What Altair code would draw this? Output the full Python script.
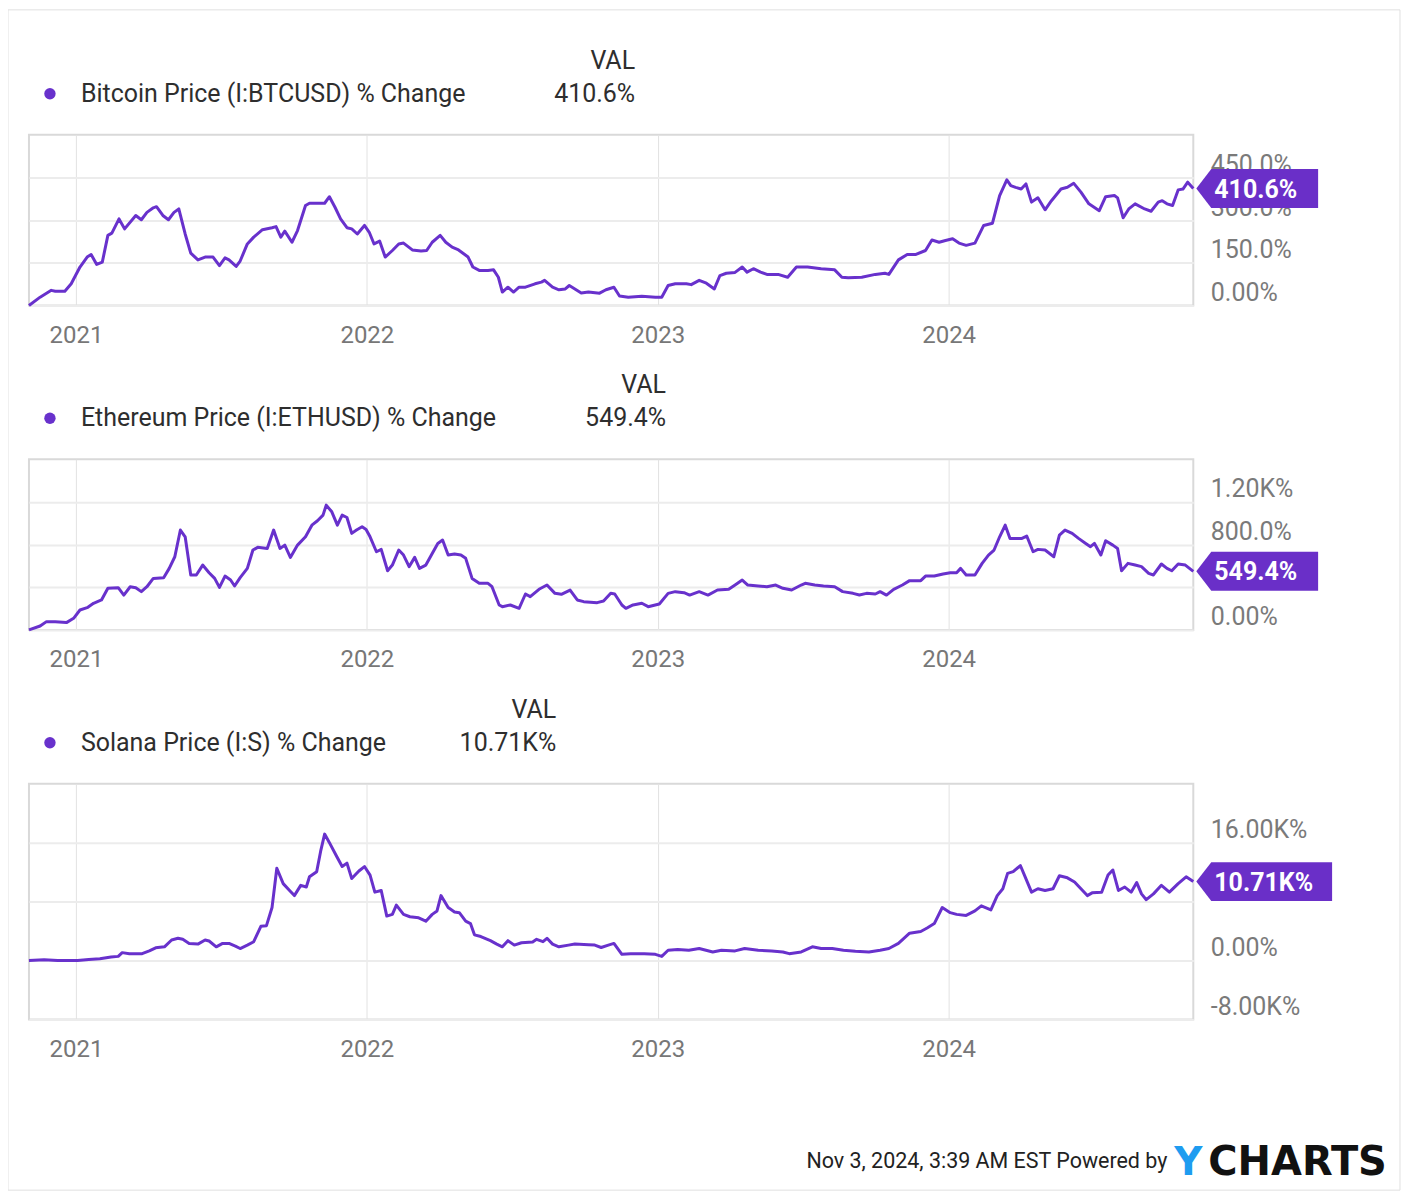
import altair as alt
import pandas as pd

START = "2020-11-03"
END = "2024-11-03"

# days since START, % change values
btc_days = [0, 14, 28, 33, 45, 53, 64, 73, 78, 85, 92, 99, 104, 113, 120, 134, 141, 148, 156, 160,
            168, 175, 182, 188, 196, 203, 212, 221, 231, 239, 246, 251, 260, 265, 274, 282, 293, 305, 310, 316,
            321, 330, 337, 347, 352, 363, 371, 377, 384, 391, 399, 405, 412, 421, 427, 433, 440, 447, 456, 464,
            470, 481, 492, 499, 506, 516, 523, 531, 539, 551, 557, 565, 576, 583, 589, 594, 601, 608, 615, 623,
            635, 643, 647, 657, 665, 673, 678, 685, 693, 702, 716, 724, 734, 741, 752, 769, 786, 794, 802, 811,
            825, 831,
            841, 850, 860, 867, 875, 886, 895, 901, 909, 918, 926, 940, 952, 963, 977, 994, 1011, 1020, 1028, 1045,
            1062, 1074, 1079, 1091, 1102, 1113, 1125, 1133, 1142, 1150, 1159, 1167, 1176, 1187, 1198, 1209, 1218, 1227, 1232, 1238,
            1245, 1251, 1258, 1266, 1275, 1283, 1295, 1303, 1311, 1320, 1330, 1343, 1351, 1362, 1366, 1373, 1380, 1388, 1400, 1408,
            1417, 1422, 1428, 1435, 1442, 1448, 1454, 1461]
btc_vals = [0, 29, 53, 50, 50, 76, 135, 170, 179, 144, 152, 246, 254, 304, 269, 316, 301, 327, 343, 347,
            316, 301, 327, 339, 251, 184, 160, 170, 170, 140, 167, 160, 137, 156, 216, 240, 266, 273, 277, 240,
            261, 222, 263, 351, 359, 359, 359, 382, 345, 304, 273, 269, 251, 281, 257, 216, 226, 170, 193, 216,
            219, 195, 191, 193, 222, 246, 222, 205, 195, 170, 135, 123, 123, 125, 99, 47, 64, 47, 64, 64,
            76, 82, 88, 64, 55, 58, 70, 58, 44, 47, 43, 55, 64, 33, 29, 32, 29, 29, 70, 76,
            76, 73,
            88, 78, 58, 105, 113, 116, 135, 117, 129, 117, 109, 109, 99, 135, 135, 129, 125, 99, 97, 99,
            109, 113, 109, 160, 179, 179, 193, 230, 222, 228, 234, 219, 211, 219, 281, 289, 386, 441, 421, 415,
            409, 427, 363, 378, 336, 368, 409, 415, 429, 398, 357, 333, 382, 386, 378, 308, 339, 357, 339, 331,
            363, 368, 357, 351, 406, 409, 433, 410.6]

eth_days = [0, 14, 22, 33, 47, 56, 64, 73, 81, 91, 99, 112, 119, 127, 134, 141, 148, 156, 169, 176,
            183, 190, 196, 203, 210, 218, 226, 233, 239, 246, 253, 258, 265, 274, 281, 287, 299, 307, 315, 321,
            328, 337, 347, 355, 362, 369, 373, 380, 387, 393, 399, 405, 411, 418, 423, 428, 436, 442, 450, 456,
            464, 470, 477, 484, 490, 498, 506, 513, 519, 526, 534, 542, 548, 556, 565, 576, 581, 590, 594, 604,
            615, 623, 629, 640, 650, 660, 668, 679, 688, 696, 713, 721, 730, 735, 744, 749, 758, 769, 777, 791,
            802, 811, 822, 829,
            841, 852, 864, 878, 886, 895, 902, 915, 926, 937, 946, 957, 969, 974, 986, 997, 1011, 1021, 1034, 1042,
            1051, 1062, 1068, 1076, 1085, 1096, 1105, 1119, 1125, 1136, 1147, 1156, 1164, 1169, 1176, 1187, 1196, 1204, 1211, 1218,
            1225, 1231, 1238, 1246, 1252, 1260, 1266, 1275, 1286, 1293, 1300, 1309, 1317, 1326, 1332, 1337, 1345, 1351, 1360, 1366,
            1371, 1379, 1388, 1396, 1405, 1411, 1421, 1428, 1434, 1442, 1451, 1461]
eth_vals = [0, 37, 78, 78, 69, 109, 187, 209, 250, 281, 390, 396, 327, 405, 396, 359, 405, 483, 490, 577,
            686, 936, 873, 515, 515, 608, 536, 483, 399, 505, 468, 412, 490, 577, 749, 774, 764, 936, 764, 795,
            680, 795, 873, 982, 1023, 1076, 1170, 1107, 982, 1076, 1054, 905, 936, 967, 942, 873, 733, 755, 555, 608,
            749, 702, 593, 680, 577, 608, 717, 811, 842, 702, 711, 702, 671, 483, 437, 437, 405, 234, 218, 234,
            203, 337, 312, 381, 421, 343, 334, 374, 281, 265, 256, 271, 343, 337, 234, 203, 234, 250, 218, 243,
            343, 359, 349, 327,
            359, 327, 374, 381, 421, 468, 421, 412, 405, 421, 390, 374, 421, 437, 421, 412, 405, 359, 343, 327,
            343, 337, 359, 327, 381, 421, 462, 462, 505, 505, 524, 536, 536, 577, 515, 515, 624, 702, 749, 873,
            982, 858, 858, 858, 880, 733, 755, 749, 686, 889, 936, 905, 858, 811, 780, 811, 702, 836, 795, 764,
            555, 624, 608, 593, 530, 515, 618, 577, 555, 618, 608, 549.4]

sol_days = [0, 19, 36, 61, 75, 89, 103, 112, 117, 126, 142, 151, 159, 170, 179, 187, 193, 201, 212, 221,
            226, 235, 243, 251, 259, 265, 274, 282, 291, 298, 305, 311, 319, 327, 333, 341, 348, 352, 361, 366,
            371, 377, 386, 393, 399, 405, 414, 421, 428, 434, 442, 449, 456, 461, 470, 478, 489, 498, 506, 512,
            517, 526, 534, 540, 548, 554, 559, 567, 579, 587, 594, 601, 609, 618, 632, 637, 645, 650, 657, 665,
            677, 685, 702, 710, 718, 727, 734, 744, 755, 772, 786, 794, 802, 814, 828,
            841, 858, 869, 886, 898, 915, 932, 946, 954, 969, 983, 994, 1008, 1022, 1037, 1054, 1068, 1079, 1091, 1105,
            1119, 1127, 1136, 1146, 1156, 1164, 1176, 1187, 1195, 1207, 1215, 1222, 1228, 1235, 1244, 1250, 1258, 1266, 1275, 1285,
            1293, 1303, 1312, 1320, 1328, 1334, 1346, 1354, 1360, 1367, 1375, 1383, 1390, 1396, 1402, 1411, 1421, 1431, 1442, 1452,
            1461]
sol_vals = [0, 93, 0, 0, 139, 232, 464, 557, 1067, 928, 928, 1299, 1716, 1855, 2783, 3015, 2876, 2319, 2226, 2783,
            2644, 1855, 2319, 2319, 1948, 1623, 2087, 2551, 4638, 4731, 7189, 12523, 10436, 9508, 8812, 10204, 9972, 11363, 12059, 14842,
            17161, 16001, 14146, 12755, 13218, 11131, 12152, 12755, 11595, 9276, 9508, 6029, 6261, 7514, 6261, 5937, 5798, 5334, 6261, 6725,
            8812, 7189, 6586, 6493, 5334, 5009, 3479, 3247, 2690, 2226, 1855, 2690, 2087, 2412, 2505, 2876, 2551, 3015, 2226, 1855,
            2087, 2226, 2133, 2087, 1762, 2087, 2319, 835, 928, 928, 835, 557, 1391, 1484, 1391,
            1623, 1160, 1391, 1299, 1623, 1391, 1299, 1160, 928, 1160, 1855, 1623, 1623, 1391, 1252, 1160, 1391, 1623, 2319, 3710,
            3942, 4406, 5009, 7189, 6493, 6261, 6122, 6725, 7421, 6864, 8812, 9740, 11827, 12059, 12894, 11363, 9276, 9740, 9508, 9740,
            11502, 11224, 10667, 9740, 8812, 9183, 9276, 11595, 12291, 9508, 9972, 9276, 10575, 9044, 8256, 9044, 10204, 9276, 10436, 11363,
            10710]

series_names = ["Bitcoin Price (I:BTCUSD) % Change",
                "Ethereum Price (I:ETHUSD) % Change",
                "Solana Price (I:S) % Change"]
last_labels = ["410.6%", "549.4%", "10.71K%"]
year_ticks = ["2021-01-01", "2022-01-01", "2023-01-01", "2024-01-01"]

btc_ticks = [0, 150, 300, 450]
btc_tick_labels = ["0.00%", "150.0%", "300.0%", "450.0%"]
eth_ticks = [0, 400, 800, 1200]
eth_tick_labels = ["0.00%", "400.0%", "800.0%", "1.20K%"]
sol_ticks = [-8000, 0, 8000, 16000]
sol_tick_labels = ["-8.00K%", "0.00%", "8.00K%", "16.00K%"]

btc_domain = [0, 600]
eth_domain = [0, 1600]
sol_domain = [-8000, 24000]

header_col = "VAL"
footer_text = "Nov 3, 2024, 3:39 AM EST Powered by"
logo_y = "Y"
logo_rest = "CHARTS"

PURPLE = "#6831cc"
BADGE = "#6a2fc8"
FONT = "Roboto"
W = 1166


def dt(s):
    y, m, d = (int(p) for p in s.split("-"))
    return alt.DateTime(year=y, month=m, date=d, utc=True)


def make_df(days, vals):
    dates = (pd.Timestamp(START) + pd.to_timedelta(days, unit="D")).strftime("%Y-%m-%d")
    return pd.DataFrame({"date": list(dates), "value": vals})


def one(text):
    return alt.Chart(pd.DataFrame({"t": [text]}))


def panel(df, name, label, ticks, tick_labels, domain, height, val_x, badge_len,
          frame=False, footer=False):
    expr = "''"
    for t, l in reversed(list(zip(ticks, tick_labels))):
        expr = f"datum.value == {t} ? '{l}' : ({expr})"
    x = alt.X("date:T",
              scale=alt.Scale(domain=[dt(START), dt(END)], nice=False),
              axis=alt.Axis(values=[dt(s) for s in year_ticks],
                            labelExpr="utcFormat(datum.value, '%Y')",
                            title=None, orient="bottom", domain=False, ticks=False,
                            labelPadding=18, labelFontSize=24, labelColor="#777777",
                            labelFont=FONT, gridColor="#e2e2e2", gridWidth=1,
                            labelFlush=False))
    y = alt.Y("value:Q",
              scale=alt.Scale(domain=domain, nice=False, zero=False),
              axis=alt.Axis(values=ticks, labelExpr=expr, title=None, orient="right",
                            domain=False, ticks=False, tickSize=0, labelPadding=17,
                            labelAlign="left", labelBaseline="alphabetic", labelOffset=-5,
                            labelFontSize=25, labelColor="#7a7a7a", labelFont=FONT,
                            labelFlush=False, labelOverlap=False,
                            gridColor="#ececec", gridWidth=2))
    line = alt.Chart(df).mark_line(color=PURPLE, strokeWidth=3, strokeJoin="round").encode(x=x, y=y)
    last = df.tail(1).assign(label=label)
    path = f"M0,0L1.5,-1.95L{badge_len},-1.95L{badge_len},1.95L1.5,1.95Z"
    badge = alt.Chart(last).mark_point(shape=path, size=400, filled=True, color=BADGE,
                                       opacity=1, strokeWidth=0, xOffset=3).encode(x=x, y=y)
    btext = alt.Chart(last).mark_text(align="left", baseline="middle", dx=21, dy=1,
                                      fontSize=25, fontWeight="bold", color="white",
                                      font=FONT).encode(x=x, y=y, text="label:N")
    dot = one(name).mark_point(filled=True, size=130, color=PURPLE, opacity=1,
                               shape="circle").encode(x=alt.value(21), y=alt.value(-41))
    ntext = one(name).mark_text(align="left", baseline="middle", fontSize=25, color="#2e2e2e",
                                font=FONT).encode(x=alt.value(52), y=alt.value(-41), text="t:N")
    vhead = one(header_col).mark_text(align="right", baseline="middle", fontSize=25, color="#2e2e2e",
                                      font=FONT).encode(x=alt.value(val_x), y=alt.value(-74), text="t:N")
    vtext = one(label).mark_text(align="right", baseline="middle", fontSize=25, color="#2e2e2e",
                                 font=FONT).encode(x=alt.value(val_x), y=alt.value(-41), text="t:N")
    layers = [line, badge, btext, dot, ntext, vhead, vtext]
    if frame:
        layers.append(one("f").mark_rect(fillOpacity=0, stroke="#e0e0e0", strokeWidth=1).encode(
            x=alt.value(-21), x2=alt.value(1373), y=alt.value(-125), y2=alt.value(1057)))
    if footer:
        layers.append(one(footer_text).mark_text(align="right", baseline="alphabetic", fontSize=21.5,
                                                 color="#222222", font=FONT).encode(
            x=alt.value(1140), y=alt.value(385), text="t:N"))
        layers.append(one(logo_y).mark_text(align="left", baseline="alphabetic", fontSize=39,
                                            fontWeight="bold", color="#1e9cf0", font="DejaVu Sans").encode(
            x=alt.value(1147), y=alt.value(392), text="t:N"))
        layers.append(one(logo_rest).mark_text(align="left", baseline="alphabetic", fontSize=40,
                                               fontWeight="bold", color="#111111", font="DejaVu Sans").encode(
            x=alt.value(1181), y=alt.value(392), text="t:N"))
    return alt.layer(*layers).properties(width=W, height=height)


p1 = panel(make_df(btc_days, btc_vals), series_names[0], last_labels[0], btc_ticks, btc_tick_labels,
           btc_domain, 171, 607, 12.2, frame=True)
p2 = panel(make_df(eth_days, eth_vals), series_names[1], last_labels[1], eth_ticks, eth_tick_labels,
           eth_domain, 171, 638, 12.2)
p3 = panel(make_df(sol_days, sol_vals), series_names[2], last_labels[2], sol_ticks, sol_tick_labels,
           sol_domain, 236, 528, 13.6, footer=True)

chart = alt.vconcat(p1, p2, p3, spacing=154, bounds="flush").properties(
    padding={"left": -2, "top": -1, "right": 0, "bottom": 0}, background="white"
).configure_view(stroke="#d9d9d9", strokeWidth=2)

chart.save("out.html", embed_options={"renderer": "svg", "actions": False})
